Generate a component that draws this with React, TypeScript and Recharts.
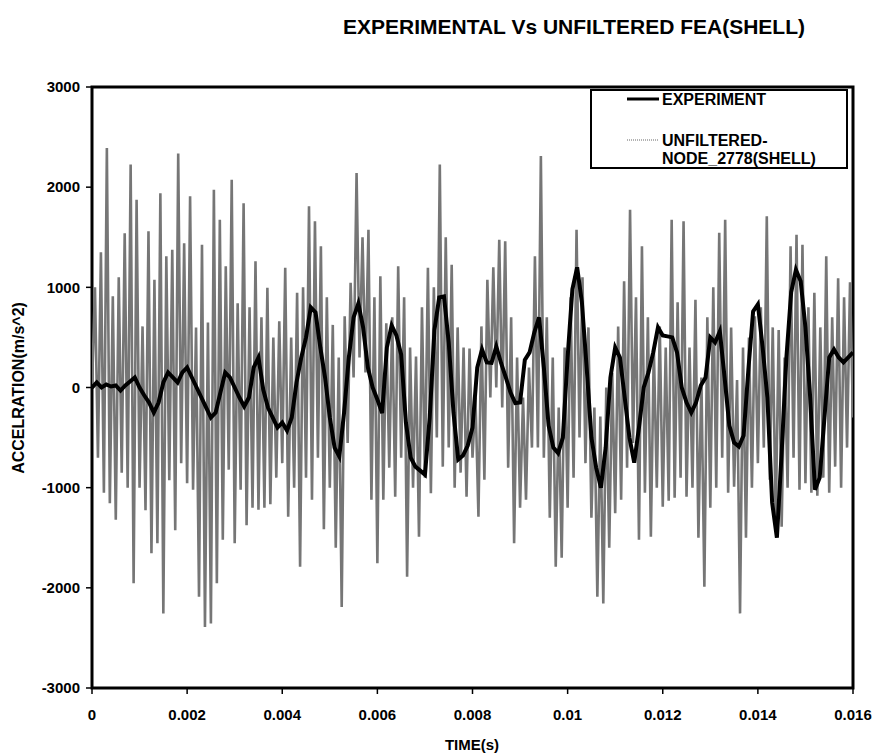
import React from 'react';
import { LineChart, Line, XAxis, YAxis, Legend, ReferenceArea } from 'recharts';

const FONT = '"Liberation Sans", Arial, Helvetica, sans-serif';

const timeTicks = [0, 0.002, 0.004, 0.006, 0.008, 0.01, 0.012, 0.014, 0.016];
const accelTicks = [-3000, -2000, -1000, 0, 1000, 2000, 3000];

// EXPERIMENT, one reading every 0.0001 s (0 .. 0.016)
const experiment = [
  0, 50, 0, 30, 10, 20, -30, 20, 60, 100,
  0, -80, -150, -250, -150, 50, 150, 100, 50, 150,
  200, 100, 0, -100, -200, -300, -250, -50, 150, 100,
  0, -100, -190, -100, 200, 300, -20, -200, -300, -400,
  -350, -430, -300, 50, 300, 500, 800, 750, 400, 100,
  -300, -600, -690, -250, 300, 700, 840, 600, 200, 0,
  -120, -255, 400, 620, 520, 330, -350, -700, -790, -830,
  -870, -300, 575, 900, 910, 450, -250, -720, -680, -580,
  -400, 200, 380, 250, 245, 410, 245, 100, -50, -155,
  -150, 275, 350, 550, 700, 200, -380, -600, -655, -500,
  300, 980, 1200, 850, 200, -500, -800, -1000, -600, 100,
  400, 300, -100, -500, -750, -400, 0, 150, 350, 600,
  520, 510, 500, 350, 0, -150, -250, -150, 20, 100,
  500, 450, 560, 100, -380, -550, -590, -480, 175, 760,
  830, 400, -100, -1150, -1500, -650, 300, 950, 1175, 1060,
  600, -100, -1020, -900, -300, 300, 380, 300, 250, 300,
  350,
];

// UNFILTERED-NODE_2778(SHELL), one reading every 0.0000625 s (0 .. 0.016)
const unfiltered = [
  0, 1000, -700, 1350, -1050, 2390, -1155, 910, -1320, 1100, -850, 1540, -1000, 2225, -1955, 1875, -1000,
  610, -1225, 1560, -1655, 1075, -1555, 1940, -2255, 1310, -925, 1375, -1425, 2335, -755, 1440, -955,
  1910, -1020, 600, -2090, 1425, -2390, 650, -2355, 1975, -1955, 1675, -1520, 1210, -820, 2075, -1555,
  840, -1020, 1840, -1375, 800, -1200, 1260, -1220, 700, -1200, 995, -1165, 500, -900, 660, -755,
  1195, -1290, 500, -1000, 945, -1790, 1000, -900, 1810, -1120, 1660, -700, 1410, -1415, 900, -1000,
  625, -1600, 300, -2190, 710, -555, 1045, 100, 2140, 300, 1500, 150, 1575, -1120, 900, -1755,
  1110, -1120, 640, -800, 700, -1090, 1210, -700, 900, -1890, 400, -1000, 310, -1490, 800, -900,
  1195, -1055, 1000, -500, 2225, -790, 1500, -600, 1225, -1000, 600, -850, 400, -1090, 390, -700,
  -100, -1290, 610, -920, 1075, -100, 1200, 0, 1475, -200, 1460, -800, 700, -1555, 300, -1200,
  -100, -1120, 200, -600, 1310, -600, 2310, -700, 700, -1300, 300, -1790, -200, -1700, 400, -1200,
  900, -900, 1575, -500, 1100, -755, 600, -1300, -200, -2090, -290, -2155, 0, -1600, 145, -1255,
  610, -1120, 1060, -800, 1775, -555, 900, -1520, 1410, -1050, 700, -1490, 400, -1000, 610, -1190,
  400, -1130, 1675, -1100, 850, -900, 1660, -1090, 400, -1000, 875, -1500, 100, -1990, 700, -1200,
  1000, -1000, 1545, -700, 1675, -1050, 600, -990, 75, -2255, 400, -1500, 500, -1000, 710, -755,
  800, -600, 1710, -920, 600, -1355, 575, -1390, 300, -1000, 1410, -700, 1525, -1020, 1425, -955,
  800, -1050, 945, -1080, 600, -900, 1310, -1050, 700, -790, 1090, -1000, 900, -600, 1050, -300,
];

const expData = experiment.map((a, i) => ({ t: i * 0.0001, a }));
const feaData = unfiltered.map((a, i) => ({ t: (i * 0.016) / 256, a }));

const fmtTime = (v: number) => String(parseFloat(v.toFixed(3)));

const LegendBox = () => (
  <div
    style={{
      width: 254,
      height: 76,
      border: '2px solid #000',
      background: '#fff',
      position: 'relative',
    }}
  >
    <svg width={254} height={76} style={{ position: 'absolute', left: 0, top: 0 }}>
      <g fontFamily={FONT} fontWeight="bold" fontSize={16} fill="#000">
        <line x1={35} x2={67} y1={8} y2={8} stroke="#000" strokeWidth={3} />
        <line x1={35} x2={67} y1={49} y2={49} stroke="#666" strokeWidth={1} strokeDasharray="1 1" />
        <text x={70} y={8} dy="0.36em">EXPERIMENT</text>
        <text x={70} y={49} dy="0.36em">UNFILTERED-</text>
        <text x={70} y={67} dy="0.36em">NODE_2778(SHELL)</text>
      </g>
    </svg>
  </div>
);

const tickStyle = { fill: '#000', fontSize: 15, fontWeight: 'bold', fontFamily: FONT };

export default function App() {
  return (
    <div style={{ position: 'fixed', left: 0, top: 0, width: 875, height: 755, background: '#fff' }}>
      <div
        style={{
          position: 'absolute',
          left: 274,
          top: 15,
          width: 600,
          textAlign: 'center',
          fontFamily: FONT,
          fontWeight: 'bold',
          fontSize: 21,
          lineHeight: '24px',
          color: '#000',
        }}
      >
        EXPERIMENTAL Vs UNFILTERED FEA(SHELL)
      </div>
      <LineChart width={875} height={755} margin={{ top: 87, right: 22, bottom: 37, left: 32 }}>
        <XAxis
          type="number"
          dataKey="t"
          domain={[0, 0.016]}
          ticks={timeTicks}
          tickFormatter={fmtTime}
          allowDataOverflow
          height={30}
          axisLine={false}
          tickLine={{ stroke: '#000', strokeWidth: 1.5 }}
          tickSize={6}
          tickMargin={15}
          tick={tickStyle}
          label={() => (
            <text x={472} y={745} dy="0.36em" textAnchor="middle" fontFamily={FONT} fontWeight="bold" fontSize={15} fill="#000">
              TIME(s)
            </text>
          )}
        />
        <YAxis
          type="number"
          domain={[-3000, 3000]}
          ticks={accelTicks}
          allowDataOverflow
          width={60}
          axisLine={false}
          tickLine={{ stroke: '#000', strokeWidth: 1.5 }}
          tickSize={6}
          tickMargin={6}
          tick={tickStyle}
          label={() => (
            <text
              x={18}
              y={388}
              dy="0.36em"
              textAnchor="middle"
              transform="rotate(-90 18 388)"
              fontFamily={FONT}
              fontWeight="bold"
              fontSize={16}
              fill="#000"
            >
              ACCELRATION(m/s^2)
            </text>
          )}
        />
        <Line
          data={feaData}
          dataKey="a"
          type="linear"
          stroke="#767676"
          strokeWidth={2.6}
          dot={false}
          activeDot={false}
          isAnimationActive={false}
        />
        <Line
          data={expData}
          dataKey="a"
          type="linear"
          stroke="#000"
          strokeWidth={4}
          dot={false}
          activeDot={false}
          isAnimationActive={false}
        />
        <ReferenceArea
          x1={0}
          x2={0.016}
          y1={-3000}
          y2={3000}
          fill="#fff"
          fillOpacity={0}
          stroke="#000"
          strokeWidth={3}
          ifOverflow="visible"
        />
        <Legend
          layout="horizontal"
          verticalAlign="middle"
          align="center"
          wrapperStyle={{ left: 590, top: 89, width: 258, height: 80 }}
          content={() => <LegendBox />}
        />
      </LineChart>
    </div>
  );
}
